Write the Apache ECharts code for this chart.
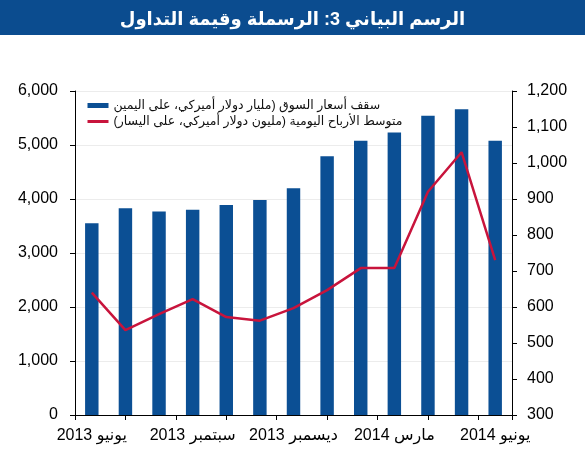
<!DOCTYPE html>
<html>
<head>
<meta charset="utf-8">
<script src="https://cdn.jsdelivr.net/npm/echarts@6/dist/echarts.min.js"></script>
<style>
html,body{margin:0;padding:0;background:#fff;}
#c{width:585px;height:450px;direction:rtl;}
</style>
</head>
<body>
<div id="c"></div>
<script>
var titleText = 'الرسم البياني 3: الرسملة وقيمة التداول';
var months = ['يونيو 2013','يوليو 2013','أغسطس 2013','سبتمبر 2013','أكتوبر 2013','نوفمبر 2013','ديسمبر 2013','يناير 2014','فبراير 2014','مارس 2014','أبريل 2014','مايو 2014','يونيو 2014'];
var barName = 'سقف أسعار السوق (مليار دولار أميركي، على اليمين';
var lineName = 'متوسط الأرباح اليومية (مليون دولار أميركي، على اليسار)';
var marketCap = [3550, 3830, 3770, 3800, 3890, 3980, 4200, 4790, 5080, 5230, 5540, 5660, 5080];
var tradingValue = [640, 536, 580, 622, 572, 562, 597, 647, 708, 708, 920, 1030, 730];

var FONT = '"Liberation Sans", Arial, "DejaVu Sans", sans-serif';
var chart = echarts.init(document.getElementById('c'), null, {renderer:'canvas'});
chart.setOption({
  animation: false,
  textStyle: {fontFamily: FONT},
  graphic: [{
    type: 'rect', z: 0, silent: true,
    shape: {x: 0, y: 0, width: 585, height: 35},
    style: {fill: '#0b4c8f'}
  }],
  title: {
    text: titleText, left: 'center', top: 6, z: 10,
    textStyle: {color: '#ffffff', fontSize: 18, fontWeight: 'bold', fontFamily: FONT}
  },
  legend: {
    orient: 'vertical', left: 81, top: 94, itemWidth: 21, itemHeight: 5, itemGap: 3,
    textStyle: {fontSize: 12.5, color: '#111', fontFamily: FONT},
    data: [
      {name: barName, icon: 'rect'},
      {name: lineName, itemStyle: {opacity: 0}, lineStyle: {width: 3}}
    ]
  },
  grid: {left: 75, right: 73, top: 91, bottom: 35},
  xAxis: [{
    type: 'category', data: months, boundaryGap: true, position: 'bottom',
    axisLine: {show: true, lineStyle: {color: '#000', width: 1}},
    axisTick: {show: false},
    axisLabel: {interval: 2, color: '#000', fontSize: 16, margin: 13, fontFamily: FONT},
    splitLine: {show: false}
  }, {
    type: 'value', min: 0, max: 13, interval: 1.5, position: 'bottom',
    axisLine: {show: false},
    axisTick: {show: true, length: 5, inside: false, lineStyle: {color: '#000'}},
    axisLabel: {show: false},
    splitLine: {show: false}
  }],
  yAxis: [{
    type: 'value', min: 0, max: 6000, interval: 1000, position: 'left',
    axisLine: {show: true, lineStyle: {color: '#000'}},
    axisTick: {show: true, length: 5, lineStyle: {color: '#000'}},
    axisLabel: {color: '#000', fontSize: 16, margin: 17, fontFamily: FONT},
    splitLine: {show: true, lineStyle: {color: '#ececec', width: 1}}
  }, {
    type: 'value', min: 300, max: 1200, interval: 100, position: 'right',
    axisLine: {show: true, lineStyle: {color: '#000'}},
    axisTick: {show: true, length: 5, lineStyle: {color: '#000'}},
    axisLabel: {color: '#000', fontSize: 16, margin: 15, fontFamily: FONT},
    splitLine: {show: false}
  }],
  series: [{
    name: barName, type: 'bar', xAxisIndex: 0, yAxisIndex: 0,
    data: marketCap, barWidth: '40%',
    itemStyle: {color: '#0b4f94'}
  }, {
    name: lineName, type: 'line', xAxisIndex: 0, yAxisIndex: 1,
    data: tradingValue, symbol: 'none', smooth: false, z: 5,
    lineStyle: {color: '#c8143c', width: 2.5},
    itemStyle: {color: '#c8143c'}
  }]
});
</script>
</body>
</html>
